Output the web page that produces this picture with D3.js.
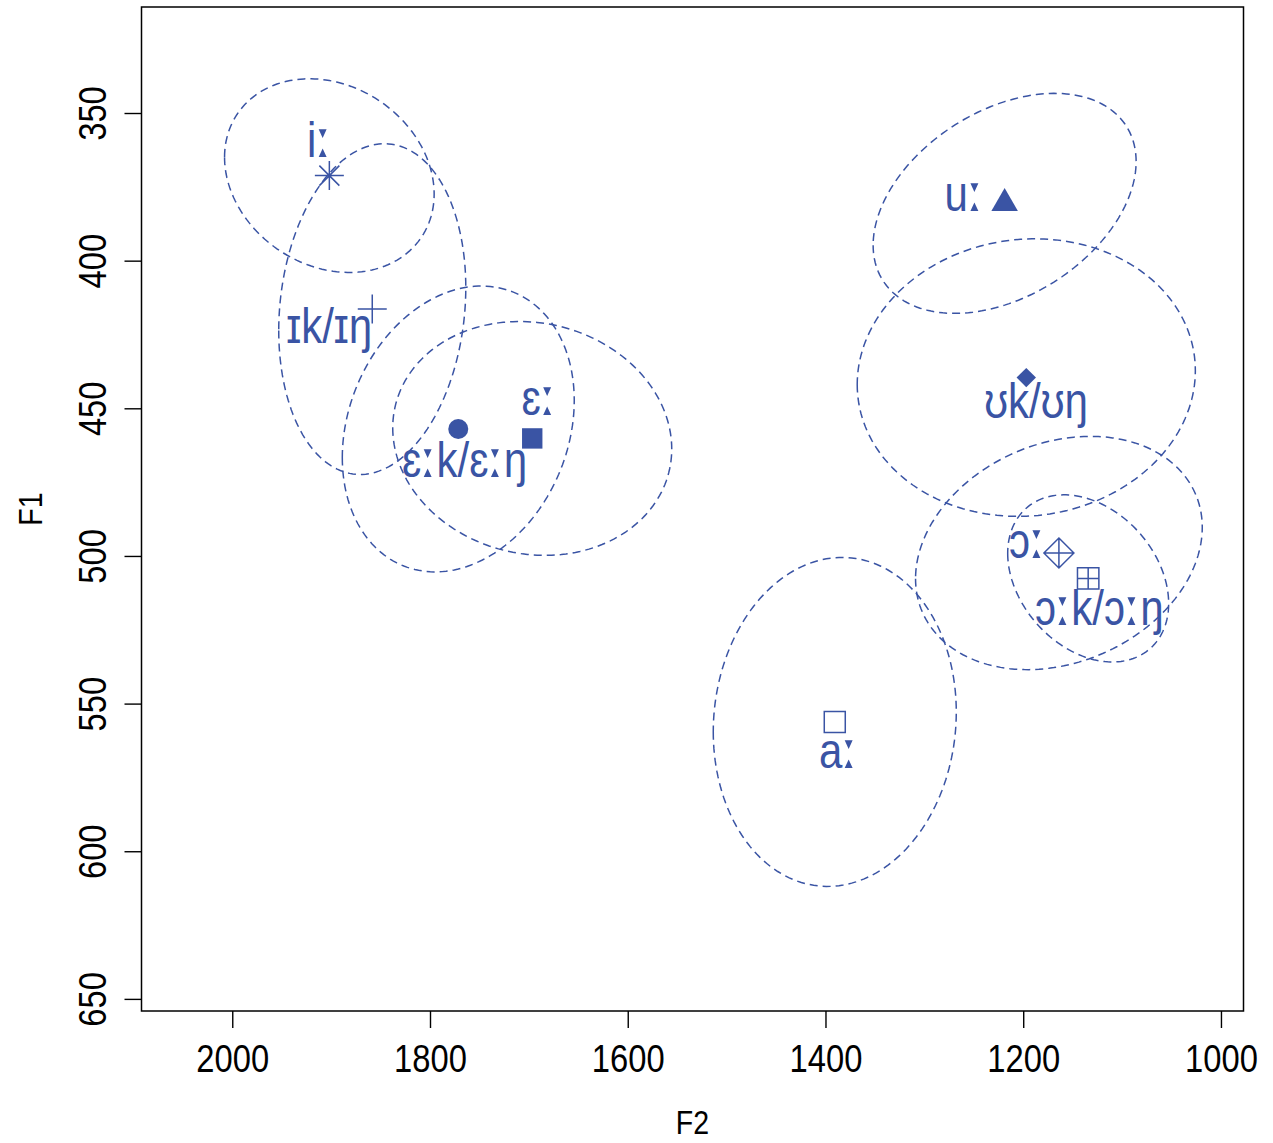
<!DOCTYPE html>
<html>
<head>
<meta charset="utf-8">
<script src="https://cdn.jsdelivr.net/npm/d3@7"></script>
<style>
  html, body { margin: 0; padding: 0; background: #ffffff; }
  svg { display: block; }
</style>
</head>
<body>
<svg id="chart" width="1273" height="1143"></svg>
<script>
// ---------------- data ----------------
const vowels   = ["iː", "ɪk/ɪŋ", "ɛːk/ɛːŋ", "ɛː", "uː", "ʊk/ʊŋ", "ɔː", "ɔːk/ɔːŋ", "aː"];
const pch      = [8, 3, 16, 15, 17, 18, 9, 12, 0];
const meanF2   = [1901.8, 1858.4, 1771.4, 1696.6, 1218.8, 1196.9, 1163.9, 1134.3, 1390.6];
const meanF1   = [371.2, 416.4, 457.0, 460.2, 380.6, 439.6, 499.0, 507.6, 556.2];
// ellipse spread along F2 and F1, plus correlation
const spreadF2 = [106, 94.6, 117.3, 141.1, 133, 171, 145, 81.4, 122.9];
const spreadF1 = [32.8, 56, 48.4, 39.6, 37.25, 47, 39.5, 28.3, 55.7];
const corr     = [-0.19, 0.13, 0.2, -0.09, 0.38, 0.05, 0.22, -0.3, 0.06];
// label positions (F2, F1)
const labelF2  = [1912, 1902, 1765, 1690, 1260, 1187, 1196, 1123, 1387];
const labelF1  = [358.8, 421.8, 467.2, 446.2, 377.1, 447.2, 494.6, 517.3, 565.7];
const f2Ticks  = [2000, 1800, 1600, 1400, 1200, 1000];
const f1Ticks  = [350, 400, 450, 500, 550, 600, 650];
const f2Domain = [2091.8, 977.2];
const f1Domain = [314.1, 654.1];

// ---------------- layout ----------------
const BLUE = "#3A54A4";
const FONT = "'Liberation Sans', Arial, Helvetica, sans-serif";
const COLON_FONT = "'DejaVu Sans', sans-serif";
const M = { left: 141.5, right: 1243.5, top: 7, bottom: 1011 };
const SX = 0.84; // narrow text

const svg = d3.select("#chart");
const x = d3.scaleLinear().domain(f2Domain).range([M.left, M.right]);
const y = d3.scaleLinear().domain(f1Domain).range([M.top, M.bottom]);

// ellipses
const tt = d3.range(0, 181).map(i => i / 180 * 2 * Math.PI);
const line = d3.line().x(d => x(d[0])).y(d => y(d[1])).curve(d3.curveLinearClosed);
const ellG = svg.append("g");
vowels.forEach((v, i) => {
  const r = corr[i], s = Math.sqrt(1 - r * r);
  const pts = tt.map(t => [
    meanF2[i] + spreadF2[i] * Math.cos(t),
    meanF1[i] + spreadF1[i] * (r * Math.cos(t) + s * Math.sin(t))
  ]);
  ellG.append("path").attr("d", line(pts))
    .attr("fill", "none").attr("stroke", BLUE)
    .attr("stroke-width", 1.5).attr("stroke-dasharray", "8,5");
});

// point symbols
function symbolPath(code) {
  const plus = h => `M${-h},0H${h}M0,${-h}V${h}`;
  const sq = h => `M${-h},${-h}H${h}V${h}H${-h}Z`;
  const dia = h => `M0,${-h}L${h},0L0,${h}L${-h},0Z`;
  switch (code) {
    case 8: return { d: plus(14.5) + `M-10,-10L10,10M-10,10L10,-10`, fill: false };
    case 3: return { d: plus(14.5), fill: false };
    case 16: return { d: "M10,0A10,10 0 1,1 -10,0A10,10 0 1,1 10,0Z", fill: true };
    case 15: return { d: sq(10.2), fill: true };
    case 17: { const r = 15.3; return { d: `M0,${-r}L${r*Math.sqrt(3)/2},${r/2}L${-r*Math.sqrt(3)/2},${r/2}Z`, fill: true }; }
    case 18: return { d: dia(9.7), fill: true };
    case 9: return { d: dia(15) + plus(15), fill: false };
    case 12: return { d: sq(10.7) + plus(10.7), fill: false };
    default: return { d: sq(10.5), fill: false };
  }
}
const ptG = svg.append("g");
vowels.forEach((v, i) => {
  const sp = symbolPath(pch[i]);
  ptG.append("path")
    .attr("transform", `translate(${x(meanF2[i])},${y(meanF1[i])})`)
    .attr("d", sp.d)
    .attr("fill", sp.fill ? BLUE : "none")
    .attr("stroke", sp.fill ? "none" : BLUE)
    .attr("stroke-width", 1.5);
});

// labels (length mark drawn with a font that has the triangular colon)
const labG = svg.append("g");
vowels.forEach((v, i) => {
  const t = labG.append("text")
    .attr("transform", `translate(${x(labelF2[i])},${y(labelF1[i]) + 18}) scale(${SX},1)`)
    .attr("text-anchor", "middle")
    .attr("font-family", FONT).attr("font-size", 50)
    .attr("fill", BLUE);
  v.split(/(ː)/).filter(s => s.length).forEach(part => {
    const ts = t.append("tspan").text(part);
    if (part === "ː") ts.attr("font-family", COLON_FONT).attr("font-size", 54);
  });
});

// axes
const xAxis = svg.append("g").attr("transform", `translate(0,${M.bottom})`)
  .call(d3.axisBottom(x).tickValues(f2Ticks).tickSize(17).tickFormat(d3.format("d")));
const yAxis = svg.append("g").attr("transform", `translate(${M.left},0)`)
  .call(d3.axisLeft(y).tickValues(f1Ticks).tickSize(17).tickFormat(d3.format("d")));
[xAxis, yAxis].forEach(g => {
  g.select(".domain").remove();
  g.selectAll(".tick line").attr("stroke", "#000").attr("stroke-width", 1.4);
  g.selectAll("text").attr("font-family", FONT).attr("font-size", 39).attr("fill", "#000");
});
xAxis.selectAll("text").attr("y", 0).attr("dy", 0)
  .attr("transform", `translate(0,61) scale(${SX},1)`);
yAxis.selectAll("text").attr("x", 0).attr("dy", 0).attr("text-anchor", "middle")
  .attr("transform", `translate(-35.5,0) rotate(-90) scale(${SX},1)`);

// frame
svg.append("rect").attr("x", M.left).attr("y", M.top)
  .attr("width", M.right - M.left).attr("height", M.bottom - M.top)
  .attr("fill", "none").attr("stroke", "#000").attr("stroke-width", 1.5);

// axis titles
svg.append("text")
  .attr("transform", `translate(${(M.left + M.right) / 2},1134) scale(${SX},1)`)
  .attr("text-anchor", "middle").attr("font-family", FONT).attr("font-size", 34)
  .text("F2");
svg.append("text")
  .attr("transform", `translate(42,${(M.top + M.bottom) / 2}) rotate(-90) scale(${SX},1)`)
  .attr("text-anchor", "middle").attr("font-family", FONT).attr("font-size", 34)
  .text("F1");
</script>
</body>
</html>
